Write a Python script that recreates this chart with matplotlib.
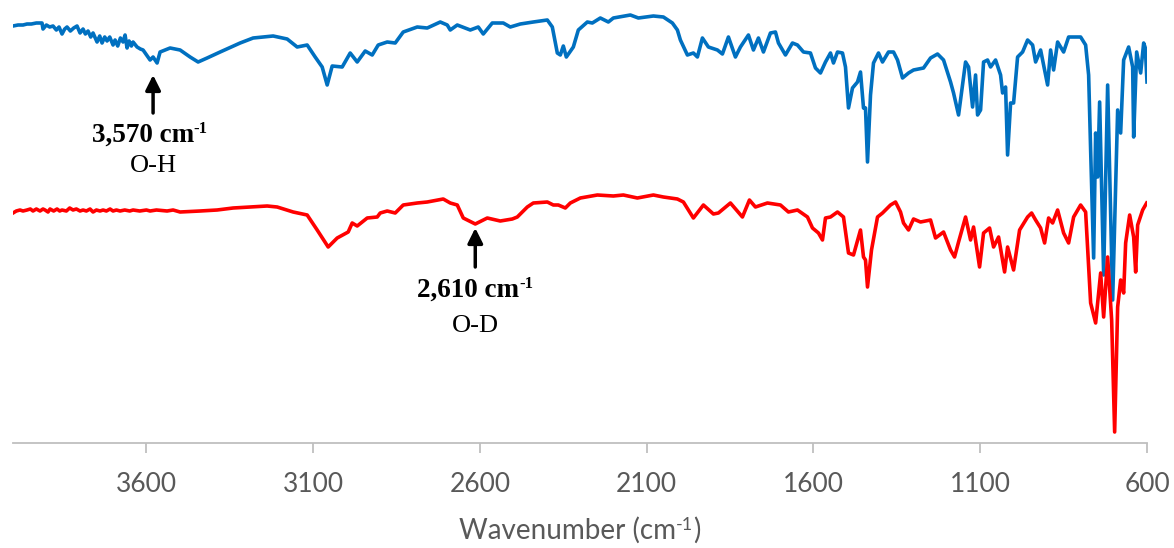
import matplotlib
matplotlib.use('Agg')
import matplotlib.pyplot as plt
from matplotlib.transforms import IdentityTransform

# FTIR spectra (wavenumber in cm-1, offset transmittance in a.u.)
wn_oh = [4000, 3985, 3970, 3958, 3945, 3930, 3913, 3910, 3900, 3890, 3880, 3870, 3862, 3853, 3845,
         3838, 3828, 3818, 3808, 3799, 3790, 3783, 3775, 3767, 3760, 3748, 3740, 3733, 3725, 3718,
         3710, 3700, 3694, 3686, 3678, 3670, 3664, 3658, 3652, 3645, 3640, 3628, 3618, 3610,
         3589, 3580, 3568, 3559, 3529, 3499, 3469, 3445, 3418, 3379, 3319, 3280, 3220,
         3178, 3148, 3118, 3094, 3073, 3058, 3043, 3013, 2989, 2968, 2944, 2923, 2905, 2878, 2854,
         2830, 2788, 2758, 2719, 2698, 2689, 2668, 2629, 2605, 2590, 2563, 2530, 2509, 2479, 2440,
         2398, 2383, 2368, 2359, 2350, 2341, 2320, 2305, 2278, 2263, 2239, 2215, 2200, 2149, 2125,
         2080, 2050, 2023, 2008, 1999, 1978, 1960, 1948, 1933, 1915, 1888, 1873, 1855, 1834, 1819,
         1795, 1780, 1765, 1750, 1729, 1714, 1705, 1684, 1663, 1648, 1630, 1609, 1594, 1579, 1564,
         1549, 1540, 1528, 1513, 1504, 1495, 1483, 1468, 1459, 1450, 1444, 1438, 1429, 1420, 1405,
         1393, 1375, 1360, 1348, 1333, 1315, 1300, 1270, 1249, 1228, 1210, 1189, 1180, 1165, 1153,
         1144, 1135, 1123, 1114, 1108, 1099, 1090, 1078, 1069, 1054, 1039, 1033, 1024, 1018, 1009,
         1000, 988, 973, 958, 943, 934, 919, 898, 889, 880, 868, 850, 835, 799, 784,
         775, 769, 760, 754, 748, 742, 730, 718, 703, 688, 679, 670, 655, 643, 640,
         631, 619, 610, 605, 600]
t_oh = [414, 415, 415, 416, 416, 417, 417, 411, 415, 413, 414, 410, 413, 406, 411,
        413, 409, 412, 414, 407, 411, 406, 409, 403, 407, 398, 404, 397, 403, 399,
        403, 395, 400, 394, 402, 398, 405, 392, 399, 394, 398, 393, 391, 390,
        380, 383, 377, 388, 392, 390, 383, 378, 382, 388, 397, 402, 404,
        401, 393, 395, 383, 373, 355, 374, 373, 387, 378, 389, 385, 395, 398, 397,
        408, 413, 412, 418, 415, 410, 415, 410, 413, 406, 417, 417, 413, 416, 418,
        420, 413, 387, 385, 394, 383, 393, 410, 418, 417, 422, 418, 422, 425, 422,
        424, 423, 417, 410, 400, 385, 387, 383, 402, 393, 390, 386, 403, 383, 393,
        405, 390, 402, 388, 407, 408, 397, 385, 397, 395, 388, 387, 372, 367, 378,
        387, 377, 388, 387, 373, 332, 352, 358, 368, 332, 332, 278, 345, 377, 387,
        378, 388, 388, 380, 362, 367, 370, 372, 382, 386, 380, 358, 347, 325, 355,
        378, 373, 333, 365, 325, 330, 378, 380, 373, 380, 365, 347, 353, 285, 337,
        337, 383, 388, 400, 395, 378, 390, 355, 390, 370, 398, 388, 403, 403, 395,
        365, 290, 182, 307, 263, 338, 165, 355, 140, 330, 307, 380, 393, 373, 303,
        388, 367, 397, 392, 358]

wn_od = [4000, 3990, 3979, 3970, 3958, 3948, 3940, 3930, 3919, 3910, 3904, 3895, 3889, 3878, 3868,
         3860, 3853, 3840, 3830, 3820, 3810, 3799, 3790, 3780, 3769, 3760, 3750, 3739, 3730, 3720,
         3709, 3700, 3690, 3679, 3665, 3650, 3640, 3620, 3600, 3589, 3570, 3538, 3520,
         3499, 3439, 3388, 3340, 3289, 3238, 3208, 3160, 3118, 3088, 3055, 3028,
         2995, 2983, 2968, 2938, 2908, 2899, 2878, 2854, 2830, 2788, 2758, 2710, 2689, 2668, 2650,
         2614, 2578, 2539, 2503, 2488, 2458, 2440, 2398, 2380, 2365, 2344, 2329, 2299, 2248, 2200,
         2170, 2128, 2080, 2050, 2008, 1990, 1960, 1930, 1900, 1885, 1849, 1813, 1792, 1774, 1738,
         1699, 1675, 1648, 1618, 1603, 1585, 1573, 1564, 1549, 1528, 1510, 1495, 1480, 1459, 1450,
         1444, 1438, 1426, 1408, 1393, 1369, 1354, 1339, 1330, 1315, 1300, 1279, 1249, 1234, 1210,
         1189, 1177, 1165, 1144, 1129, 1120, 1102, 1090, 1072, 1060, 1045, 1027, 1018, 1000, 982,
         958, 946, 934, 919, 907, 895, 883, 868, 850, 835, 820, 799, 784, 769, 754,
         739, 730, 718, 706, 697, 688, 679, 670, 664, 652, 640, 634, 628, 613, 601]
t_od = [227, 229, 230, 229, 230, 231, 229, 231, 229, 231, 230, 228, 231, 229, 231,
        229, 230, 229, 232, 230, 231, 229, 230, 229, 231, 228, 230, 229, 230, 229,
        231, 229, 230, 229, 230, 229, 230, 229, 230, 229, 230, 229, 230,
        228, 229, 230, 232, 233, 234, 233, 228, 225, 210, 193, 202,
        208, 217, 214, 222, 223, 227, 229, 227, 235, 237, 238, 241, 237, 235, 222,
        216, 222, 219, 221, 223, 233, 237, 238, 235, 235, 232, 237, 242, 245, 244,
        245, 242, 245, 243, 241, 238, 222, 235, 226, 227, 237, 223, 240, 233, 237,
        235, 228, 230, 223, 212, 207, 200, 222, 223, 228, 223, 187, 185, 210, 183,
        180, 153, 190, 223, 227, 235, 238, 228, 217, 210, 221, 218, 220, 202, 208,
        190, 183, 198, 223, 200, 213, 173, 207, 212, 193, 203, 168, 193, 170, 210,
        223, 227, 220, 212, 197, 222, 217, 230, 207, 197, 223, 235, 228, 137, 117,
        167, 123, 183, 120, 8, 133, 160, 147, 197, 225, 203, 168, 215, 230, 237]

ticks = [3600, 3100, 2600, 2100, 1600, 1100, 600]

W, H = 1174, 548
fig = plt.figure(figsize=(W / 100, H / 100), dpi=100, facecolor='white')
ax = fig.add_axes([13 / W, (H - 443) / H, 1134 / W, 443 / H])

ax.plot(wn_oh, t_oh, color='#0070C0', lw=2.6, solid_joinstyle='round', zorder=2)
ax.plot(wn_od, t_od, color='#FF0000', lw=2.6, solid_joinstyle='round', zorder=3)

ax.set_xlim(4000, 600)
ax.set_ylim(-3, 440)
ax.set_xticks(ticks)
ax.set_yticks([])
for s in ['top', 'right', 'left']:
    ax.spines[s].set_visible(False)
ax.spines['bottom'].set_color('#BFBFBF')
ax.spines['bottom'].set_linewidth(1.3)
ax.tick_params(axis='x', length=7, width=1.3, color='#BFBFBF', labelcolor='#595959',
               labelsize=19, pad=14)
for lab in ax.get_xticklabels():
    lab.set_family('Lato')

renderer = fig.canvas.get_renderer()


def rich(xc, ybase, parts, **kw):
    """place text pieces side by side (pixel coords, y from bottom), centred on xc"""
    items = []
    for s, size, rise in parts:
        t = fig.text(0, 0, s, fontsize=size, transform=IdentityTransform(),
                     ha='left', va='baseline', **kw)
        items.append((t, t.get_window_extent(renderer).width, rise))
    x = xc - sum(w for _, w, _ in items) / 2
    for t, w, rise in items:
        t.set_position((x, ybase + rise))
        x += w


def px(wn):
    return ax.transData.transform((wn, 0))[0]


serif = 'Liberation Serif'
arrow = dict(arrowstyle='-|>,head_width=0.45,head_length=0.9', color='black', lw=2.5,
             shrinkA=0, shrinkB=0)

# O-H band
ax.annotate('', xy=(3580, 365), xytext=(3580, 327), arrowprops=arrow)
rich(px(3590), H - 142, [('3,570 cm', 19.5, 0), ('-1', 12, 9)],
     family=serif, fontweight='bold', color='black')
rich(px(3580), H - 172, [('O-H', 19, 0)], family=serif, color='black')

# O-D band
ax.annotate('', xy=(2614, 212), xytext=(2614, 173), arrowprops=arrow)
rich(px(2614), H - 297, [('2,610 cm', 19.5, 0), ('-1', 12, 9)],
     family=serif, fontweight='bold', color='black')
rich(px(2614), H - 332, [('O-D', 19, 0)], family=serif, color='black')

# axis title
rich(580, H - 539, [('Wavenumber (cm', 20, 0), ('-1', 13, 9), (')', 20, 0)],
     family='Lato', color='#595959')

plt.savefig('out.png', dpi=100, facecolor='white')
plt.close()
